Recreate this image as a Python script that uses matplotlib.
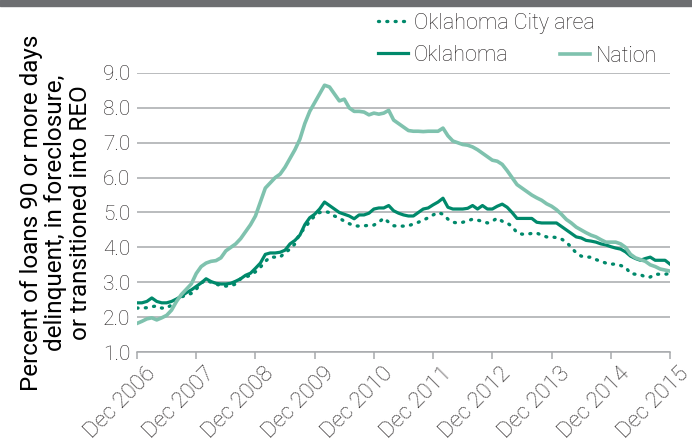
import matplotlib
matplotlib.use("Agg")
import matplotlib.pyplot as plt
import matplotlib.transforms as mtransforms
import numpy as np
from matplotlib.patches import Rectangle

plt.rcParams['font.family'] = ['Roboto', 'DejaVu Sans']
plt.rcParams['font.weight'] = 'light'

# Monthly values, Dec 2006 .. Dec 2015 (109 months)
nation = [1.82, 1.88, 1.95, 1.98, 1.92, 1.98, 2.05, 2.2, 2.45, 2.65, 2.8, 2.95,
          3.25, 3.45, 3.55, 3.6, 3.62, 3.7, 3.9, 4.0, 4.1, 4.25, 4.45, 4.65,
          4.9, 5.3, 5.7, 5.85, 6.0, 6.1, 6.3, 6.55, 6.8, 7.1, 7.55, 7.9,
          8.15, 8.4, 8.65, 8.6, 8.4, 8.2, 8.25, 8.0, 7.9, 7.9, 7.88, 7.8,
          7.85, 7.82, 7.85, 7.93, 7.65, 7.55, 7.45, 7.35, 7.33, 7.33, 7.32, 7.33,
          7.33, 7.33, 7.42, 7.2, 7.05, 7.0, 6.95, 6.93, 6.88, 6.8, 6.7, 6.6,
          6.5, 6.47, 6.38, 6.2, 6.0, 5.8, 5.7, 5.6, 5.5, 5.42, 5.35, 5.25,
          5.18, 5.08, 4.95, 4.8, 4.7, 4.58, 4.5, 4.42, 4.35, 4.3, 4.22, 4.15,
          4.15, 4.15, 4.1, 4.0, 3.8, 3.7, 3.65, 3.6, 3.5, 3.45, 3.38, 3.35,
          3.32]

oklahoma = [2.41, 2.41, 2.45, 2.55, 2.45, 2.41, 2.41, 2.45, 2.52, 2.6, 2.7, 2.78,
            2.88, 2.98, 3.1, 3.02, 2.97, 2.95, 2.95, 2.97, 3.03, 3.1, 3.2, 3.26,
            3.4, 3.55, 3.8, 3.84, 3.84, 3.86, 3.92, 4.1, 4.2, 4.35, 4.65, 4.85,
            4.95, 5.1, 5.3, 5.2, 5.1, 5.0, 4.95, 4.9, 4.82, 4.93, 4.93, 4.98,
            5.1, 5.13, 5.13, 5.2, 5.05, 4.98, 4.93, 4.9, 4.9, 5.0, 5.1, 5.13,
            5.22, 5.3, 5.41, 5.15, 5.1, 5.1, 5.1, 5.12, 5.2, 5.1, 5.2, 5.1,
            5.1, 5.18, 5.24, 5.15, 5.0, 4.83, 4.83, 4.83, 4.83, 4.72, 4.7, 4.7,
            4.7, 4.7, 4.6, 4.5, 4.4, 4.3, 4.27, 4.2, 4.18, 4.15, 4.1, 4.07,
            4.02, 3.98, 3.95, 3.87, 3.75, 3.68, 3.63, 3.68, 3.72, 3.63, 3.63, 3.63,
            3.52]

okc = [2.26, 2.26, 2.27, 2.3, 2.32, 2.26, 2.26, 2.35, 2.5, 2.58, 2.63, 2.68,
       2.8, 2.98, 3.06, 3.0, 2.95, 2.9, 2.89, 2.9, 2.95, 3.1, 3.15, 3.2,
       3.3, 3.43, 3.6, 3.72, 3.72, 3.72, 3.85, 3.95, 4.1, 4.4, 4.55, 4.75,
       4.9, 5.0, 5.03, 5.0, 4.9, 4.84, 4.75, 4.68, 4.62, 4.61, 4.62, 4.63,
       4.64, 4.72, 4.84, 4.72, 4.62, 4.61, 4.61, 4.62, 4.67, 4.72, 4.78, 4.85,
       4.93, 5.0, 4.95, 4.81, 4.72, 4.7, 4.72, 4.76, 4.81, 4.78, 4.75, 4.7,
       4.75, 4.84, 4.75, 4.7, 4.6, 4.42, 4.38, 4.38, 4.4, 4.41, 4.35, 4.3,
       4.3, 4.28, 4.24, 4.15, 4.0, 3.84, 3.75, 3.72, 3.72, 3.65, 3.6, 3.55,
       3.52, 3.52, 3.48, 3.43, 3.25, 3.23, 3.22, 3.15, 3.15, 3.23, 3.23, 3.23,
       3.25]

x_tick_labels = ["Dec 2006", "Dec 2007", "Dec 2008", "Dec 2009", "Dec 2010",
                 "Dec 2011", "Dec 2012", "Dec 2013", "Dec 2014", "Dec 2015"]
y_ticks = [1.0, 2.0, 3.0, 4.0, 5.0, 6.0, 7.0, 8.0, 9.0]

months = np.arange(len(nation))
x_ticks = np.arange(0, 109, 12)

dark = '#00896b'
light = '#7fc2ae'
grid_c = '#a7a9ac'
text_c = '#231f20'

fig = plt.figure(figsize=(6.92, 4.44), dpi=100)
ax = fig.add_axes([137/692, 1-352/444, (670-137)/692, (352-73)/444])

fig.patches.append(Rectangle((0, 1-6/444), 1, 6/444, transform=fig.transFigure,
                             color='#6d6e71', zorder=0))

l_okc, = ax.plot(months, okc, color=dark, lw=2.4, linestyle=(0, (0.3, 2.2)),
                 dash_capstyle='round', label='Oklahoma City area', zorder=3)
l_ok, = ax.plot(months, oklahoma, color=dark, lw=2.3, label='Oklahoma', zorder=3,
                solid_joinstyle='round')
l_nat, = ax.plot(months, nation, color=light, lw=2.6, label='Nation', zorder=4,
                 solid_joinstyle='round')

ax.set_xlim(0, 108)
ax.set_ylim(1, 9)
ax.set_yticks(y_ticks)
ax.set_yticklabels([f"{v:.1f}" for v in y_ticks])
ax.set_xticks(x_ticks)
ax.set_xticklabels([])

offset = mtransforms.ScaledTranslation(8/100, -11/100, fig.dpi_scale_trans)
trans = mtransforms.blended_transform_factory(ax.transData, ax.transAxes) + offset
for xt, lab in zip(x_ticks, x_tick_labels):
    ax.text(xt, 0, lab, transform=trans, rotation=45, ha='right', va='top',
            rotation_mode='anchor', fontsize=16, color=text_c, clip_on=False)

for s in ['top', 'right', 'left']:
    ax.spines[s].set_visible(False)
ax.spines['bottom'].set_color(grid_c)
ax.spines['bottom'].set_linewidth(1.1)
ax.grid(axis='y', color=grid_c, lw=1.1, zorder=1)
ax.set_axisbelow(True)
ax.tick_params(axis='y', length=0, pad=5, labelsize=15, labelcolor=text_c)
ax.tick_params(axis='x', length=5, width=1.1, color=grid_c)

ax.set_ylabel("Percent of loans 90 or more days\ndelinquent, in foreclosure,\nor transitioned into REO",
              fontsize=17.5, fontweight='normal', color='#000000', labelpad=8,
              linespacing=1.08)

leg1 = fig.legend(handles=[l_okc, l_ok], loc='upper left',
                  bbox_to_anchor=(378/692, 1-13/444), frameon=False, fontsize=15.5,
                  handlelength=1.4, handletextpad=0.25, labelspacing=0.5,
                  borderpad=0, borderaxespad=0, labelcolor=text_c)
leg2 = fig.legend(handles=[l_nat], loc='upper left',
                  bbox_to_anchor=(560/692, 1-46/444), frameon=False, fontsize=15.5,
                  handlelength=1.4, handletextpad=0.25,
                  borderpad=0, borderaxespad=0, labelcolor=text_c)

fig.savefig("out.png", dpi=100)
